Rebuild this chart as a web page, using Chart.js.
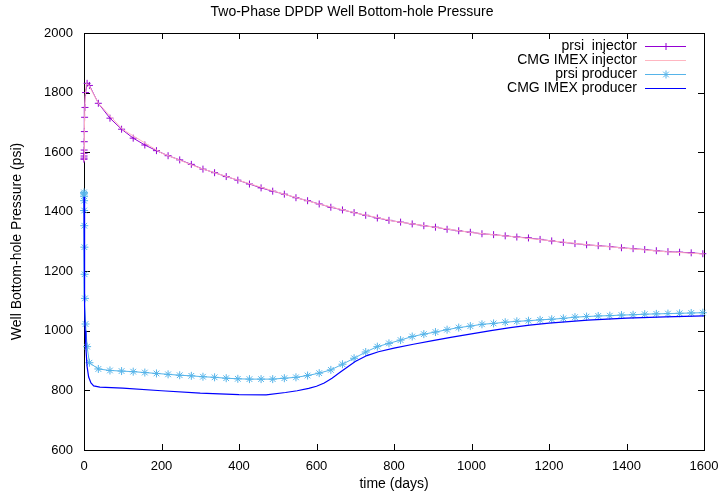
<!DOCTYPE html>
<html>
<head>
<meta charset="utf-8">
<script src="https://cdn.jsdelivr.net/npm/chart.js@4.4.1/dist/chart.umd.min.js"></script>
<style>
  html, body { margin: 0; padding: 0; background: #fff; }
  canvas { display: block; }
</style>
</head>
<body>
<canvas id="bhp" width="719" height="495"></canvas>
<script>
// prsi output times (days)
const prsiTime = [0.01, 0.05, 0.1, 0.2, 0.4, 0.7, 1, 1.5, 2.5, 4, 8, 14,
  37, 67, 97, 127, 157, 187, 217, 247, 277, 307, 337, 367, 397, 427, 457, 487,
  517, 547, 577, 607, 637, 667, 697, 727, 757, 787, 817, 847, 877, 907, 937, 967,
  997, 1027, 1057, 1087, 1117, 1147, 1177, 1207, 1237, 1267, 1297, 1327, 1357,
  1387, 1417, 1447, 1477, 1507, 1537, 1567, 1597];

const prsiInjector = [1576, 1580, 1587, 1596, 1607, 1635, 1669, 1717, 1750, 1800, 1831, 1824,
  1764, 1714, 1677, 1647, 1624, 1605, 1588, 1574, 1559, 1543, 1531, 1518, 1506, 1493, 1480, 1469,
  1459, 1447, 1437, 1426, 1415, 1406, 1397, 1388, 1379, 1371, 1365, 1359, 1353, 1348, 1341, 1336,
  1331, 1326, 1323, 1319, 1315, 1312, 1307, 1302, 1297, 1293, 1289, 1286, 1283,
  1279, 1276, 1273, 1269, 1266, 1264, 1262, 1259];

const prsiProducer = [1465, 1460, 1452, 1437, 1404, 1353, 1281, 1190, 1109, 1023, 947, 893,
  872, 867, 865, 863, 860, 857, 854, 851, 849, 846, 844, 841, 839, 838, 838, 838,
  841, 844, 850, 858, 869, 888, 908, 929, 947, 958, 969, 981, 989, 996, 1004, 1011,
  1016, 1022, 1025, 1029, 1032, 1034, 1037, 1039, 1042, 1046, 1048, 1050, 1051,
  1053, 1054, 1056, 1057, 1058, 1059, 1060, 1061];

// CMG IMEX results
const cmgInjTime = [0, 1, 3, 6, 12, 37, 100, 200, 300, 400, 500, 600, 700, 800,
  900, 1000, 1100, 1200, 1300, 1400, 1500, 1600];
const cmgInjector = [1570, 1680, 1790, 1830, 1826, 1764, 1676, 1597, 1546, 1505, 1465, 1428, 1396, 1368,
  1349, 1330, 1317, 1303, 1289, 1277, 1266, 1258];

const cmgProdTime = [0, 1, 2, 3, 5, 8, 12, 18, 25, 41, 100, 200, 300, 400, 470, 520, 550, 580,
  600, 620, 640, 660, 680, 700, 730, 760, 800, 850, 900, 950, 1000, 1050, 1100, 1150,
  1200, 1300, 1400, 1500, 1600];
const cmgProducer = [1450, 1200, 1080, 1000, 940, 880, 845, 825, 815, 811, 808, 799, 791, 786, 785, 793, 799, 807,
  814, 825, 841, 860, 879, 897, 917, 930, 942, 955, 967, 979, 990, 1001, 1011, 1019,
  1026, 1036, 1043, 1047, 1050];

const xTicks = [0, 200, 400, 600, 800, 1000, 1200, 1400, 1600];
const yTicks = [600, 800, 1000, 1200, 1400, 1600, 1800, 2000];

const FONT = '"Liberation Sans", Arial, Helvetica, sans-serif';

function pts(xs, ys) {
  return xs.map((x, i) => ({ x: x, y: ys[i] }));
}

// gnuplot style box with inward ticks on all four sides
const framePlugin = {
  id: 'frame',
  beforeDatasetsDraw(chart) {
    const { ctx, chartArea: a, scales } = chart;
    ctx.save();
    ctx.strokeStyle = '#000';
    ctx.lineWidth = 1;
    ctx.beginPath();
    xTicks.forEach(v => {
      const px = Math.round(scales.x.getPixelForValue(v)) + 0.5;
      ctx.moveTo(px, a.bottom); ctx.lineTo(px, a.bottom - 6);
      ctx.moveTo(px, a.top); ctx.lineTo(px, a.top + 6);
    });
    yTicks.forEach(v => {
      const py = Math.round(scales.y.getPixelForValue(v)) + 0.5;
      ctx.moveTo(a.left, py); ctx.lineTo(a.left + 6, py);
      ctx.moveTo(a.right, py); ctx.lineTo(a.right - 6, py);
    });
    ctx.stroke();
    ctx.strokeRect(Math.round(a.left) + 0.5, Math.round(a.top) + 0.5,
      Math.round(a.right - a.left), Math.round(a.bottom - a.top));
    ctx.restore();
  }
};

// key in the top right corner: text right aligned, sample on the right
const keyPlugin = {
  id: 'key',
  afterDraw(chart) {
    const { ctx, chartArea: a } = chart;
    ctx.save();
    ctx.font = '14px ' + FONT;
    ctx.textAlign = 'right';
    ctx.textBaseline = 'middle';
    chart.data.datasets.forEach((ds, i) => {
      const y = a.top + 13 + i * 14;
      ctx.fillStyle = '#000';
      ctx.fillText(ds.label, a.right - 67, y);
      ctx.strokeStyle = ds.borderColor;
      ctx.fillStyle = ds.borderColor;
      ctx.lineWidth = 1;
      ctx.beginPath();
      ctx.moveTo(a.right - 59, y + 0.5);
      ctx.lineTo(a.right - 18, y + 0.5);
      ctx.stroke();
      if (ds.pointRadius > 0) {
        Chart.helpers.drawPoint(ctx, {
          pointStyle: ds.pointStyle, radius: ds.pointRadius, borderWidth: 1, rotation: 0
        }, a.right - 38, y + 0.5);
      }
    });
    ctx.restore();
  }
};

new Chart(document.getElementById('bhp'), {
  type: 'line',
  data: {
    datasets: [
      {
        label: 'prsi  injector',
        data: pts(prsiTime, prsiInjector),
        borderColor: '#9400d3',
        backgroundColor: '#9400d3',
        borderWidth: 1,
        pointStyle: 'cross',
        pointRadius: 3.5,
        pointBorderWidth: 1,
        order: 4
      },
      {
        label: 'CMG IMEX injector',
        data: pts(cmgInjTime, cmgInjector),
        borderColor: '#ffb6c1',
        borderWidth: 1,
        pointRadius: 0,
        order: 3
      },
      {
        label: 'prsi producer',
        data: pts(prsiTime, prsiProducer),
        borderColor: '#56b4e9',
        backgroundColor: '#56b4e9',
        borderWidth: 1,
        pointStyle: 'star',
        pointRadius: 4,
        pointBorderWidth: 1,
        order: 2
      },
      {
        label: 'CMG IMEX producer',
        data: pts(cmgProdTime, cmgProducer),
        borderColor: '#0000ff',
        borderWidth: 1.2,
        pointRadius: 0,
        order: 1
      }
    ]
  },
  options: {
    responsive: false,
    animation: false,
    devicePixelRatio: 1,
    clip: false,
    layout: { padding: { left: 0, right: 15, top: 0, bottom: 0 } },
    elements: { line: { tension: 0 } },
    plugins: {
      legend: { display: false },
      tooltip: { enabled: false },
      title: {
        display: true,
        text: 'Two-Phase DPDP Well Bottom-hole Pressure',
        color: '#000',
        font: { family: FONT, size: 14, weight: 'normal' },
        padding: { top: 4, bottom: 12.2 }
      }
    },
    scales: {
      x: {
        type: 'linear',
        min: 0,
        max: 1600,
        afterFit: s => { s.height = 45; s.paddingRight = 0; },
        afterBuildTicks: s => { s.ticks = xTicks.map(v => ({ value: v })); },
        grid: { display: false },
        border: { display: false },
        ticks: {
          color: '#000', padding: 1, maxRotation: 0,
          font: { family: FONT, size: 13 },
          callback: v => String(v)
        },
        title: {
          display: true,
          text: 'time (days)',
          color: '#000',
          font: { family: FONT, size: 14 },
          padding: { top: 0, bottom: 2.6 }
        }
      },
      y: {
        type: 'linear',
        min: 600,
        max: 2000,
        afterFit: s => { s.width = 84; },
        afterBuildTicks: s => { s.ticks = yTicks.map(v => ({ value: v })); },
        grid: { display: false },
        border: { display: false },
        ticks: {
          color: '#000', padding: 3,
          font: { family: FONT, size: 13 },
          callback: v => String(v)
        },
        title: {
          display: true,
          text: 'Well Bottom-hole Pressure (psi)',
          color: '#000',
          font: { family: FONT, size: 14 },
          padding: { top: 9, bottom: 0 }
        }
      }
    }
  },
  plugins: [framePlugin, keyPlugin]
});
</script>
</body>
</html>
